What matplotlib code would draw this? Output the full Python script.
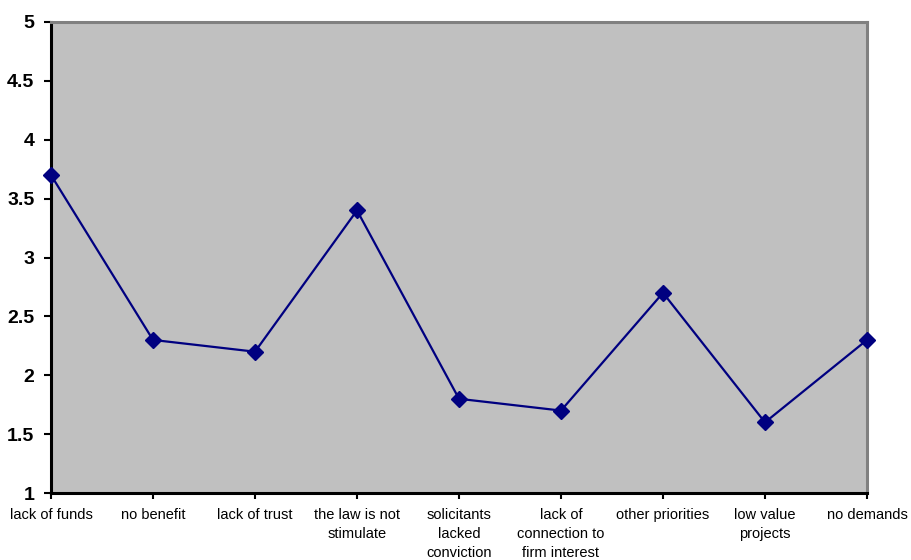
import matplotlib
matplotlib.use("Agg")
import matplotlib.pyplot as plt

plt.rcParams['font.family'] = ['Liberation Sans', 'DejaVu Sans']

categories = ["lack of funds", "no benefit", "lack of trust",
              "the law is not\nstimulate", "solicitants\nlacked\nconviction",
              "lack of\nconnection to\nfirm interest", "other priorities",
              "low value\nprojects", "no demands"]
scores = [3.7, 2.3, 2.2, 3.4, 1.8, 1.7, 2.7, 1.6, 2.3]
y_ticks = [1, 1.5, 2, 2.5, 3, 3.5, 4, 4.5, 5]
y_labels = ["1", "1.5", "2", "2.5", "3", "3.5", "4", "4.5", "5"]

fig = plt.figure(figsize=(9.12, 5.6), dpi=100)
ax = fig.add_axes([51/912, 67/560, (867-51)/912, (493-22)/560])
ax.set_facecolor("#C0C0C0")

x = list(range(len(categories)))
ax.plot(x, scores, color="#000080", linewidth=1.6, marker="D",
        markersize=8.5, markerfacecolor="#000080", markeredgecolor="#000080",
        clip_on=False, zorder=3)

ax.set_xlim(0, len(categories) - 1)
ax.set_ylim(1, 5)
ax.set_yticks(y_ticks)
ax.set_yticklabels(y_labels, fontsize=14, fontweight="bold")
ax.set_xticks(x)
ax.set_xticklabels(categories, fontsize=10.5, linespacing=1.45)

for side in ("top", "right"):
    ax.spines[side].set_color("#808080")
    ax.spines[side].set_linewidth(2.2)
for side in ("left", "bottom"):
    ax.spines[side].set_color("black")
    ax.spines[side].set_linewidth(2.2)

ax.tick_params(axis="y", direction="out", length=5, width=1.5, pad=7, colors="black")
ax.tick_params(axis="x", direction="out", length=4, width=1.5, pad=7, colors="black")

fig.savefig("out.png", dpi=100, facecolor="white")
